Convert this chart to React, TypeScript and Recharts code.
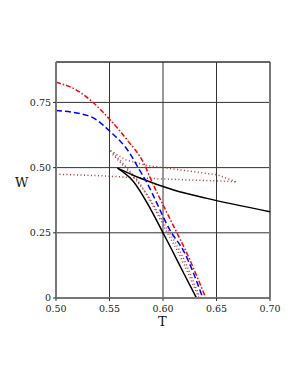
import { LineChart, Line, XAxis, YAxis, CartesianGrid, ReferenceLine } from "recharts"

// red dash-dot
const redT = [0.5, 0.518, 0.5335, 0.5507, 0.5663, 0.582, 0.589, 0.613, 0.621, 0.64]
const redW = [0.827, 0.8, 0.754, 0.683, 0.607, 0.517, 0.452, 0.25, 0.183, 0]

// blue dashed
const blueT = [0.5, 0.532, 0.5507, 0.569, 0.577, 0.5835, 0.608, 0.6189, 0.6372]
const blueW = [0.719, 0.696, 0.638, 0.555, 0.498, 0.453, 0.25, 0.183, 0]

// black solid, two branches
const blackUpT = [0.5575, 0.579, 0.61, 0.641, 0.7]
const blackUpW = [0.498, 0.459, 0.414, 0.382, 0.331]
const blackLowT = [0.5575, 0.5725, 0.588, 0.6, 0.6085, 0.6195, 0.6313]
const blackLowW = [0.498, 0.446, 0.344, 0.25, 0.183, 0.094, 0]

// dotted brown
const dotAT = [0.5, 0.541, 0.585, 0.668]
const dotAW = [0.475, 0.469, 0.459, 0.446]
const dotBT = [0.551, 0.565, 0.585, 0.6, 0.651, 0.668]
const dotBW = [0.565, 0.53, 0.508, 0.5, 0.472, 0.446]
const dotCT = [0.551, 0.566, 0.578, 0.592, 0.604, 0.6132, 0.6335]
const dotCW = [0.565, 0.5, 0.44, 0.344, 0.25, 0.183, 0]
const dotDT = [0.553, 0.569, 0.581, 0.606, 0.6154, 0.6346]
const dotDW = [0.55, 0.48, 0.42, 0.25, 0.183, 0]

const xTicks = [0.5, 0.55, 0.6, 0.65, 0.7]
const yTicks = [0, 0.25, 0.5, 0.75]

const pts = (t: number[], w: number[]) => t.map((v, i) => ({ t: v, w: w[i] }))

const font = "DejaVu Serif"
const dotted = "#b03a3a"

export default function App() {
  return (
    <div style={{ position: "absolute", left: 0, top: 0, width: 300, height: 388, background: "#fff" }}>
      <LineChart width={300} height={388} margin={{ top: 62, right: 30, bottom: 60, left: 0 }}>
        <CartesianGrid stroke="#333" strokeWidth={1} />
        <XAxis
          dataKey="t"
          type="number"
          domain={[0.5, 0.7]}
          ticks={xTicks}
          allowDataOverflow
          height={30}
          tickSize={3}
          tickMargin={4}
          tickFormatter={(v: number) => v.toFixed(2)}
          tick={{ fill: "#222", fontSize: 9.5, fontFamily: font }}
          axisLine={{ stroke: "#777", strokeWidth: 2 }}
          tickLine={{ stroke: "#333" }}
        />
        <YAxis
          dataKey="w"
          type="number"
          domain={[0, 0.905]}
          ticks={yTicks}
          allowDataOverflow
          width={56}
          tickSize={3}
          tickMargin={2}
          tickFormatter={(v: number) => (v === 0 ? "0" : v.toFixed(2))}
          tick={{ fill: "#222", fontSize: 9.5, fontFamily: font }}
          axisLine={{ stroke: "#777", strokeWidth: 2 }}
          tickLine={{ stroke: "#333" }}
        />
        <ReferenceLine x={0.7} stroke="#777" strokeWidth={2} />
        <ReferenceLine y={0.905} stroke="#333" strokeWidth={1} />
        <Line data={pts(dotAT, dotAW)} dataKey="w" type="linear" stroke={dotted} strokeWidth={1.5} strokeDasharray="1 2.5" dot={false} isAnimationActive={false} />
        <Line data={pts(dotBT, dotBW)} dataKey="w" type="linear" stroke={dotted} strokeWidth={1.5} strokeDasharray="1 2.5" dot={false} isAnimationActive={false} />
        <Line data={pts(dotCT, dotCW)} dataKey="w" type="monotone" stroke={dotted} strokeWidth={1.5} strokeDasharray="1 2.5" dot={false} isAnimationActive={false} />
        <Line data={pts(dotDT, dotDW)} dataKey="w" type="monotone" stroke={dotted} strokeWidth={1.5} strokeDasharray="1 2.5" dot={false} isAnimationActive={false} />
        <Line data={pts(blackUpT, blackUpW)} dataKey="w" type="monotone" stroke="#000" strokeWidth={1.5} dot={false} isAnimationActive={false} />
        <Line data={pts(blackLowT, blackLowW)} dataKey="w" type="monotone" stroke="#000" strokeWidth={1.5} dot={false} isAnimationActive={false} />
        <Line data={pts(blueT, blueW)} dataKey="w" type="monotone" stroke="#0000ff" strokeWidth={1.5} strokeDasharray="6 3" dot={false} isAnimationActive={false} />
        <Line data={pts(redT, redW)} dataKey="w" type="monotone" stroke="#ff0000" strokeWidth={1.5} strokeDasharray="5 2 1.5 2" dot={false} isAnimationActive={false} />
      </LineChart>
      <div style={{ position: "absolute", left: 15, top: 176, fontFamily: font, fontSize: 13, lineHeight: "13px", color: "#111" }}>W</div>
      <div style={{ position: "absolute", left: 158, top: 315, fontFamily: font, fontSize: 13, lineHeight: "13px", color: "#111" }}>T</div>
    </div>
  )
}
